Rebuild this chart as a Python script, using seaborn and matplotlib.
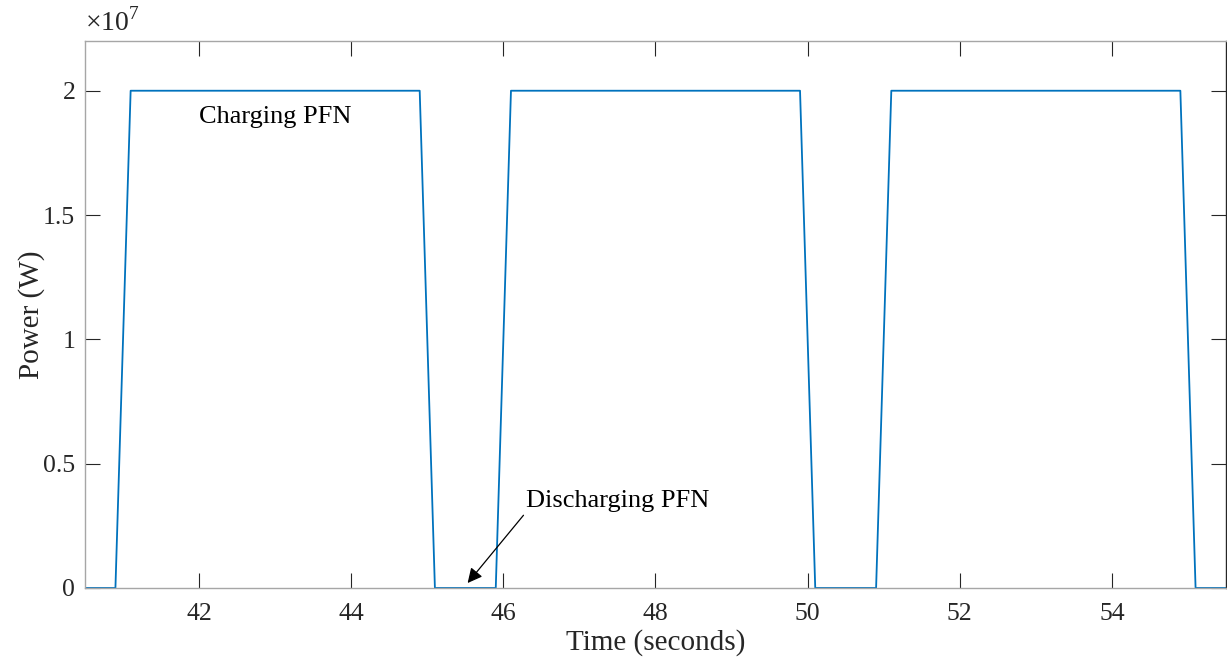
import numpy as np
import pandas as pd
import matplotlib
matplotlib.use("Agg")
import matplotlib.pyplot as plt
import matplotlib.ticker as mticker
import seaborn as sns

# PFN power trace (corner points)
time_s = [40.5, 40.9, 41.1, 44.9, 45.1, 45.9, 46.1, 49.9, 50.1, 50.9, 51.1, 54.9, 55.1, 55.5]
power_w = [0, 0, 2e7, 2e7, 0, 0, 2e7, 2e7, 0, 0, 2e7, 2e7, 0, 0]

x_ticks = [42, 44, 46, 48, 50, 52, 54]
y_ticks = [0, 0.5e7, 1e7, 1.5e7, 2e7]

df = pd.DataFrame({"Time": time_s, "Power": power_w})

sns.set_style("white")
plt.rcParams["font.family"] = ["Liberation Serif", "DejaVu Serif"]
plt.rcParams["mathtext.fontset"] = "custom"
plt.rcParams["mathtext.rm"] = "Liberation Serif"

fig = plt.figure(figsize=(12.27, 6.62), dpi=100)
ax = fig.add_axes([85 / 1227, 74 / 662, 1141 / 1227, 547 / 662])

sns.lineplot(data=df, x="Time", y="Power", color="#0072BD", linewidth=1.3, ax=ax)

ax.set_xlim(40.5, 55.5)
ax.set_ylim(0, 2.2e7)
ax.set_xticks(x_ticks)
ax.set_yticks(y_ticks)
ax.yaxis.set_major_formatter(mticker.FuncFormatter(lambda v, p: f"{v / 1e7:g}"))

ax.tick_params(axis="both", which="major", direction="in", length=11, width=0.8,
               color="#262626", labelsize=18.5, labelcolor="#262626",
               top=True, right=True, bottom=True, left=True)
ax.tick_params(axis="x", pad=11)
ax.tick_params(axis="y", pad=7)

for side in ["left", "bottom", "top"]:
    ax.spines[side].set_color("#a6a6a6")
    ax.spines[side].set_linewidth(1.0)
ax.spines["right"].set_color("#262626")
ax.spines["right"].set_linewidth(1.0)

ax.set_xlabel("Time (seconds)", fontsize=21, color="#262626", labelpad=3)
ax.set_ylabel("Power (W)", fontsize=21, color="#262626", labelpad=-1)

# exponent label, as in the original
ax.text(0.0, 1.008, r"$\times10^{7}$", transform=ax.transAxes, fontsize=20,
        ha="left", va="bottom", color="#262626")

# annotations
ax.text(43.0, 1.895e7, "Charging PFN", fontsize=19, ha="center", va="center", color="black")
ax.annotate("Discharging PFN", xy=(45.53, 0.02e7), xytext=(46.3, 0.35e7),
            fontsize=19, ha="left", va="center", color="black",
            arrowprops=dict(arrowstyle="-|>", color="black", lw=0.9,
                            mutation_scale=22, shrinkA=0, shrinkB=0,
                            relpos=(0.0, 0.0)))

fig.savefig("out.png", dpi=100)
